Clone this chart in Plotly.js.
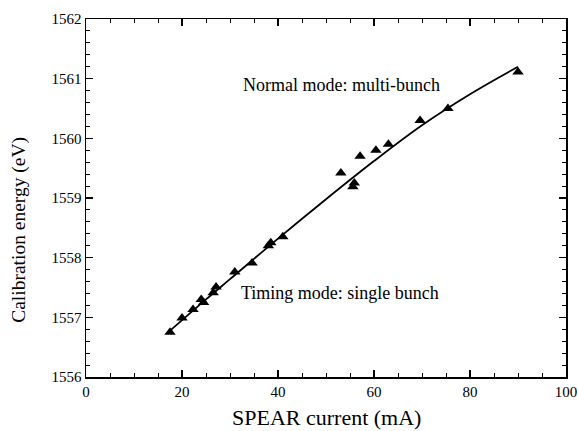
<!DOCTYPE html>
<html><head><meta charset="utf-8">
<script src="https://cdn.plot.ly/plotly-3.0.1.min.js"></script>
<style>html,body{margin:0;padding:0;background:#fff;}#chart{width:578px;height:431px;}</style>
</head><body><div id="chart"></div>
<script>
const currentMA = [17.5, 20, 22.3, 24, 24.5, 26.5, 27.1, 31, 34.6, 38, 38.5, 41, 53.1, 55.6, 55.9, 57.1, 60.4, 63, 69.6, 75.4, 90];
const energyEV = [1556.75, 1556.99, 1557.13, 1557.3, 1557.25, 1557.41, 1557.51, 1557.76, 1557.91, 1558.2, 1558.25, 1558.35, 1559.42, 1559.19, 1559.25, 1559.7, 1559.8, 1559.9, 1560.3, 1560.5, 1561.11];
const fitX = [17, 25, 30, 40, 50, 60, 70, 80, 90];
const fitY = [1556.74, 1557.30, 1557.64, 1558.32, 1558.98, 1559.62, 1560.22, 1560.74, 1561.20];
const annotTexts = ["Normal mode: multi-bunch", "Timing mode: single bunch"];
const annotX = [53.3, 53.0];
const annotY = [1560.89, 1557.41];
const xTitle = 'SPEAR current (mA)';
const yTitle = 'Calibration energy (eV)';

const serif = "Times New Roman";
const data = [
  {x: fitX, y: fitY, mode: 'lines', line: {color: '#000', width: 1.8, shape: 'spline'}, hoverinfo: 'skip'},
  {x: currentMA, y: energyEV, mode: 'markers', marker: {symbol: 'triangle-up', size: 10, color: '#000'}}
];
const axisCommon = {
  showgrid: false, zeroline: false, showline: true, linecolor: '#000', linewidth: 1.5,
  ticks: 'inside', ticklen: 7, tickwidth: 1.3, tickcolor: '#000', mirror: 'ticks',
  tickfont: {family: serif, size: 15, color: '#000'}
};
const annotations = annotTexts.map((t, i) => ({
  x: annotX[i], y: annotY[i], xref: 'x', yref: 'y', text: t, showarrow: false,
  font: {family: serif, size: 18, color: '#000'}
}));
annotations.push({
  x: 0.5, y: -0.112, xref: 'paper', yref: 'paper', text: xTitle, showarrow: false,
  xanchor: 'center', yanchor: 'middle', font: {family: serif, size: 22, color: '#000'}
});
annotations.push({
  x: -0.1396, y: 0.411, xref: 'paper', yref: 'paper', text: yTitle, showarrow: false,
  textangle: -90, xanchor: 'center', yanchor: 'middle', font: {family: serif, size: 19.5, color: '#000'}
});
const layout = {
  width: 578, height: 431,
  margin: {l: 86, r: 12, t: 19, b: 54},
  paper_bgcolor: '#fff', plot_bgcolor: '#fff',
  showlegend: false,
  font: {family: serif},
  xaxis: Object.assign({}, axisCommon, {
    range: [0, 100], dtick: 20, tick0: 0,
    minor: {dtick: 5, ticklen: 4, tickwidth: 1, tickcolor: '#000', ticks: 'inside'}
  }),
  yaxis: Object.assign({}, axisCommon, {
    range: [1556, 1562], dtick: 1, tick0: 1556,
    minor: {dtick: 0.2, ticklen: 4, tickwidth: 1, tickcolor: '#000', ticks: 'inside'}
  }),
  annotations: annotations
};
Plotly.newPlot('chart', data, layout, {displayModeBar: false, staticPlot: true});
</script></body></html>
